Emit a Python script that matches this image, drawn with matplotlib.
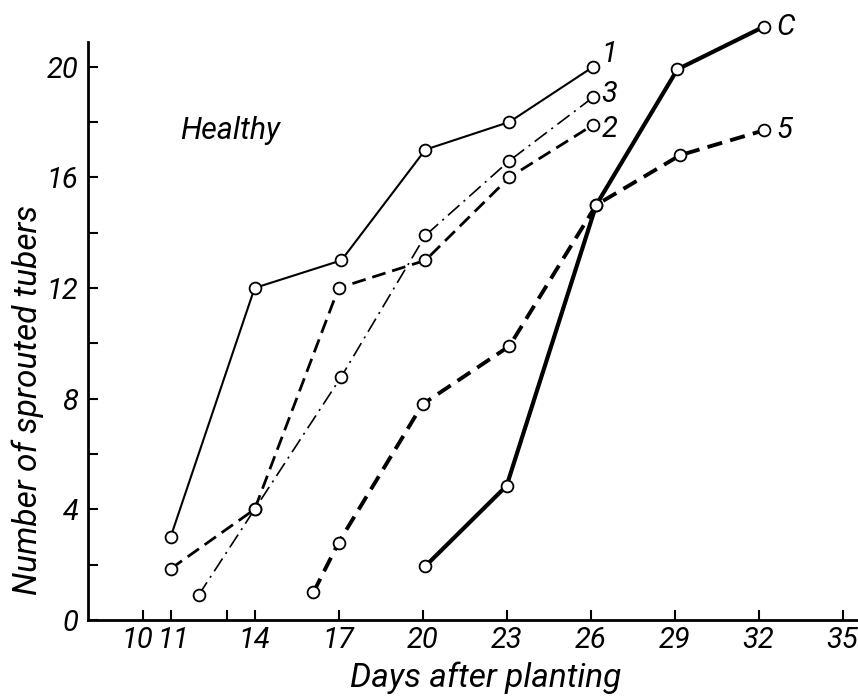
import matplotlib
matplotlib.use("Agg")
import matplotlib.pyplot as plt
import matplotlib.transforms as mtransforms
from matplotlib import font_manager

# Narrow-ish sans face for the technical lettering
names = {f.name for f in font_manager.fontManager.ttflist}
FAMILY = "Roboto" if "Roboto" in names else "DejaVu Sans"
plt.rcParams["font.family"] = [FAMILY, "DejaVu Sans"]
plt.rcParams["lines.scale_dashes"] = False

# Sprouting counts per treatment (day after planting, number of sprouted tubers)
days_1 = [11, 14, 17.1, 20.1, 23.1, 26.1]
tubers_1 = [3, 12, 13, 17, 18, 20]

days_2 = [11, 14, 17, 20.1, 23.1, 26.1]
tubers_2 = [1.85, 4, 12, 13, 16, 17.9]

days_3 = [12, 14, 17.1, 20.1, 23.1, 26.1]
tubers_3 = [0.9, 4, 8.8, 13.9, 16.6, 18.9]

days_5 = [16.1, 17, 20, 23.1, 26.2, 29.2, 32.2]
tubers_5 = [1, 2.8, 7.8, 9.9, 15, 16.8, 17.7]

days_c = [20.1, 23, 26.2, 29.1, 32.2]
tubers_c = [1.95, 4.85, 15, 19.9, 21.45]

curve_names = ["1", "2", "3", "5", "C"]
x_ticks = [10, 11, 13, 14, 17, 20, 23, 26, 29, 32, 35]
x_labels = ["10", "11", "", "14", "17", "20", "23", "26", "29", "32", "35"]
y_ticks = [0, 2, 4, 6, 8, 10, 12, 14, 16, 18, 20]
y_labels = ["0", "", "4", "", "8", "", "12", "", "16", "", "20"]

fig = plt.figure(figsize=(8.58, 6.99), dpi=100)
ax = fig.add_axes([0.1026, 0.113, 0.8974, 0.8273])

mk = dict(marker="o", markersize=8.5, markerfacecolor="white",
          markeredgecolor="black", markeredgewidth=1.3, color="black", clip_on=False)

series = [
    (days_1, tubers_1, dict(linewidth=1.5, linestyle="-")),
    (days_2, tubers_2, dict(linewidth=2.0, dashes=(10, 5))),
    (days_3, tubers_3, dict(linewidth=1.2, dashes=(11, 4, 1.5, 4))),
    (days_5, tubers_5, dict(linewidth=2.8, dashes=(11, 6))),
    (days_c, tubers_c, dict(linewidth=3.0, linestyle="-")),
]
for x, y, style in series:
    ax.plot(x, y, zorder=3, **style, **mk)

# Curve labels beside the last point of each series
FS = 21
label_font = dict(fontsize=FS, style="italic", va="center", ha="left")
offsets = {"1": (6, 9), "2": (6, -3), "3": (6, 2), "5": (9, 0), "C": (9, 0)}
ends = {"1": (days_1[-1], tubers_1[-1]), "2": (days_2[-1], tubers_2[-1]),
        "3": (days_3[-1], tubers_3[-1]), "5": (days_5[-1], tubers_5[-1]),
        "C": (days_c[-1], tubers_c[-1])}
for name in curve_names:
    ax.annotate(name, ends[name], xytext=offsets[name], textcoords="offset points",
                annotation_clip=False, **label_font)

ax.text(11.33, 17.7, "Healthy", fontsize=22, style="italic", ha="left", va="center")

ax.set_xlim(8.05, 35.55)
ax.set_ylim(0, 20.9)
ax.set_xticks(x_ticks)
ax.set_xticklabels(x_labels)
ax.set_yticks(y_ticks)
ax.set_yticklabels(y_labels)
for lab in ax.get_xticklabels() + ax.get_yticklabels():
    lab.set_fontsize(FS)
    lab.set_style("italic")
ax.tick_params(direction="in", length=7, width=1.5)
ax.tick_params(axis="x", pad=4)
ax.tick_params(axis="y", pad=7)

# Nudge the crowded "10" / "11" pair apart
xl = ax.get_xticklabels()
xl[0].set_transform(xl[0].get_transform() + mtransforms.ScaledTranslation(-5 / 100, 0, fig.dpi_scale_trans))
xl[1].set_transform(xl[1].get_transform() + mtransforms.ScaledTranslation(3 / 100, 0, fig.dpi_scale_trans))

for side in ("top", "right"):
    ax.spines[side].set_visible(False)
for side in ("left", "bottom"):
    ax.spines[side].set_linewidth(2.0)

ax.set_xlabel("Days after planting", fontsize=24, style="italic", va="center")
ax.xaxis.set_label_coords(0.517, -0.1)
ax.set_ylabel("Number of sprouted tubers", fontsize=24, style="italic", va="center")
ax.yaxis.set_label_coords(-0.078, 0.38)

fig.savefig("out.png", dpi=100, facecolor="white")
